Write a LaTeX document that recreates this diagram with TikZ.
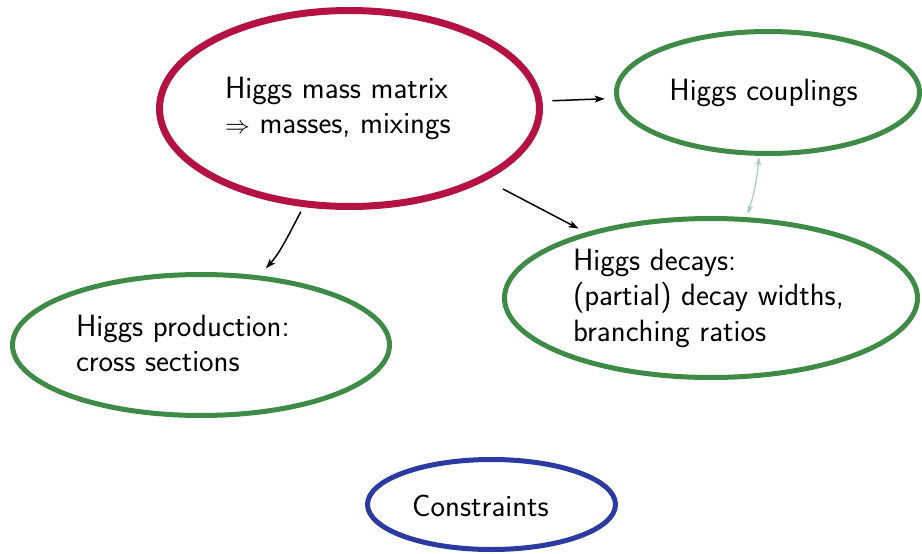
\documentclass[tikz,border=0pt]{standalone}
\usetikzlibrary{shapes.geometric,arrows.meta}
\definecolor{massred}{RGB}{179,18,66}
\definecolor{boxgreen}{RGB}{61,139,70}
\definecolor{boxblue}{RGB}{43,58,160}
\definecolor{lightgreen}{RGB}{165,212,183}
\begin{document}
\begin{tikzpicture}[x=1pt,y=1pt,
  oval/.style={ellipse, draw, inner sep=0pt, outer sep=0pt},
  redoval/.style={oval, draw=massred, line width=7pt},
  greenoval/.style={oval, draw=boxgreen, line width=5pt},
  blueoval/.style={oval, draw=boxblue, line width=5pt},
  lbl/.style={inner sep=0pt, outer sep=0pt, align=left,
    font=\fontsize{30.8}{35.5}\selectfont\sffamily},
  conn/.style={line width=1.5pt, -{Stealth[length=10pt,width=7pt,inset=2.5pt]}},
  lconn/.style={line width=1.3pt, draw=lightgreen,
    {Stealth[length=9pt,width=6pt,inset=2.5pt]}-{Stealth[length=9pt,width=6pt,inset=2.5pt]}}
]
\useasboundingbox (0,0) rectangle (922,-554);
\node[redoval, minimum width=380pt, minimum height=196pt] (mass) at (349.5,-108.5) {};
\node[greenoval, minimum width=303pt, minimum height=122pt] (coup) at (768,-92.5) {};
\node[greenoval, minimum width=413pt, minimum height=159pt] (dec) at (711,-298) {};
\node[greenoval, minimum width=377pt, minimum height=141pt] (prod) at (201,-345) {};
\node[blueoval, minimum width=248pt, minimum height=90pt] (cons) at (491.5,-504.5) {};

\node[lbl, anchor=base west] (tmass) at (225,-133.5) {Higgs mass matrix\\$\Rightarrow$ masses, mixings};
\node[lbl, anchor=base] (tcoup) at (763.5,-100) {Higgs couplings};
\node[lbl, anchor=base west] (tdec) at (573,-341) {Higgs decays:\\(partial) decay widths,\\branching ratios};
\node[lbl, anchor=base west] (tprod) at (76,-371.5) {Higgs production:\\cross sections};
\node[lbl, anchor=base] (tcons) at (480.5,-516) {Constraints};

\draw[conn, shorten <=13.5pt, shorten >=12.5pt] (mass) -- (coup);
\draw[conn, shorten <=22.8pt, shorten >=11.5pt] (mass) -- (dec);
\draw[conn, shorten <=9pt, shorten >=12.6pt] (mass.245.35) to[out=242,in=48] (prod.50.26);
\draw[lconn, shorten <=6pt, shorten >=3.3pt] (dec.66.06) to[bend right=6] (coup.262.3);
\end{tikzpicture}
\end{document}
